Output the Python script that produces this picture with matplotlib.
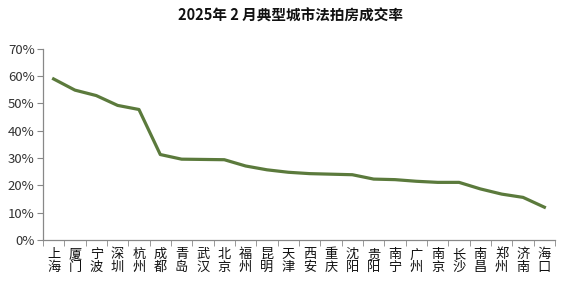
import matplotlib
matplotlib.use("Agg")
import matplotlib.pyplot as plt
import numpy as np

plt.rcParams['font.family'] = ['Noto Sans CJK SC', 'DejaVu Sans']

cities = ["上海", "厦门", "宁波", "深圳", "杭州", "成都", "青岛", "武汉", "北京", "福州",
          "昆明", "天津", "西安", "重庆", "沈阳", "贵阳", "南宁", "广州", "南京", "长沙",
          "南昌", "郑州", "济南", "海口"]
rates = [59.0, 54.9, 52.9, 49.3, 47.8, 31.3, 29.6, 29.5, 29.4, 27.1,
         25.7, 24.8, 24.3, 24.1, 23.9, 22.3, 22.1, 21.5, 21.1, 21.1,
         18.7, 16.8, 15.6, 12.0]
yticks = [0, 10, 20, 30, 40, 50, 60, 70]
title = "2025年 2 月典型城市法拍房成交率"

fig = plt.figure(figsize=(5.8, 2.86), dpi=100)
ax = fig.add_axes([0.074, 0.161, 0.883, 0.668])

x = np.arange(len(cities))
ax.plot(x, rates, color="#5b7a3c", linewidth=2.3, solid_joinstyle="round")

ax.set_xlim(-0.5, len(cities) - 0.5)
ax.set_ylim(0, 70)
ax.set_yticks(yticks)
ax.set_yticklabels([f"{v}%" for v in yticks], fontsize=9.5, color="#333333")

ax.set_xticks(x)
ax.set_xticklabels(["\n".join(c) for c in cities], fontsize=9.5, linespacing=0.95, color="#111111")
ax.tick_params(axis="x", length=0, pad=6)
ax.set_xticks(np.arange(-0.5, len(cities)), minor=True)
ax.tick_params(axis="x", which="minor", length=4, color="#888888", direction="out")
ax.tick_params(axis="y", length=4, color="#888888", direction="out", pad=2)

for s in ["top", "right"]:
    ax.spines[s].set_visible(False)
for s in ["left", "bottom"]:
    ax.spines[s].set_color("#888888")
    ax.spines[s].set_linewidth(0.9)

fig.text(0.5, 0.945, title, ha="center", va="center", fontsize=10.5, fontweight="bold", color="#111111")

fig.savefig("out.png", dpi=100, facecolor="white")
